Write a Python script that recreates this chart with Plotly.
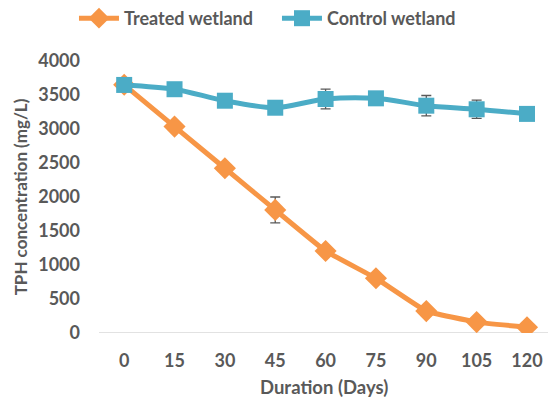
import plotly.graph_objects as go

days = [0, 15, 30, 45, 60, 75, 90, 105, 120]
day_labels = [str(d) for d in days]
treated = [3650, 3035, 2422, 1810, 1206, 805, 322, 160, 85]
treated_err = [0, 0, 0, 190, 50, 40, 0, 0, 0]
control = [3648, 3585, 3416, 3313, 3441, 3451, 3343, 3290, 3222]
control_err = [0, 0, 0, 0, 145, 0, 150, 135, 0]

idx = list(range(len(days)))
font_family = "Lato, 'Open Sans', sans-serif"
grey = "#595959"

fig = go.Figure()
fig.add_trace(go.Scatter(
    x=idx, y=treated, name="Treated wetland", mode="lines+markers",
    line=dict(color="#F79646", width=5, shape="spline", smoothing=0.3),
    marker=dict(symbol="diamond", size=17, color="#F79646"),
    error_y=dict(type="data", array=treated_err, color="#595959", thickness=1.3, width=5),
))
fig.add_trace(go.Scatter(
    x=idx, y=control, name="Control wetland", mode="lines+markers",
    line=dict(color="#4BACC6", width=5, shape="spline", smoothing=0.8),
    marker=dict(symbol="square", size=16, color="#4BACC6"),
    error_y=dict(type="data", array=control_err, color="#595959", thickness=1.3, width=5),
))

fig.update_layout(
    width=548, height=399,
    margin=dict(l=99, r=0, t=61, b=66, autoexpand=False),
    paper_bgcolor="white", plot_bgcolor="white",
    font=dict(family=font_family, color=grey, size=18),
    showlegend=True,
    legend=dict(orientation="h", x=0.135, xanchor="left", y=1.0, yanchor="top",
                xref="container", yref="container",
                font=dict(size=18, family=font_family, color=grey, weight="bold"),
                itemwidth=40, traceorder="normal", tracegroupgap=0,
                entrywidth=148, entrywidthmode="pixels"),
    xaxis=dict(
        tickmode="array", tickvals=idx, ticktext=day_labels,
        range=[-0.5, 8.417], showgrid=False, zeroline=False, automargin=False,
        showline=False, ticks="", ticklabelstandoff=15,
        tickfont=dict(size=18, weight="bold", color=grey),
    ),
    yaxis=dict(
        range=[0, 4000], dtick=500, showgrid=False, zeroline=False, automargin=False,
        showline=False, ticks="", ticklabelstandoff=18,
        tickfont=dict(size=18, weight="bold", color=grey),
        title=dict(text="TPH concentration (mg/L)", font=dict(size=17, weight="bold", color=grey), standoff=6),
    ),
)
fig.add_annotation(text="Duration (Days)", xref="paper", yref="paper", x=0.5, y=-0.2,
                   xanchor="center", yanchor="middle", showarrow=False,
                   font=dict(size=18.5, weight="bold", color=grey, family=font_family))
fig.add_shape(type="line", xref="paper", yref="y", x0=0, x1=1, y0=0, y1=0,
              line=dict(color="#D9D9D9", width=1.5), layer="below")

fig.write_html("out.html", config={"displayModeBar": False},
               post_script="document.body.style.margin='0px';")
